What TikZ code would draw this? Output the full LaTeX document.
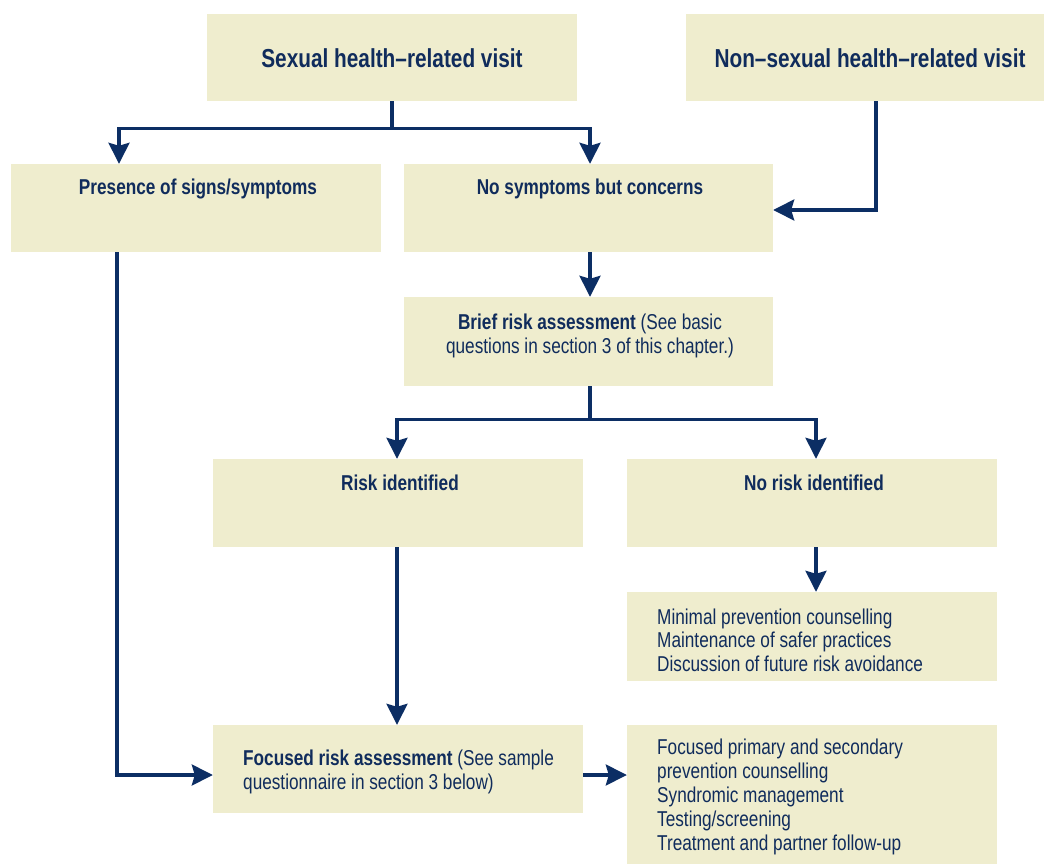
\documentclass[tikz,border=0pt]{standalone}
\usepackage{fontspec}
\setmainfont{Liberation Sans}[FakeStretch=0.8]
\usetikzlibrary{arrows.meta}
\definecolor{boxfill}{RGB}{239,237,206}
\definecolor{navy}{RGB}{16,44,92}
\definecolor{arrowc}{RGB}{12,46,100}
\tikzset{
  box/.style={rectangle, fill=boxfill, draw=none, inner sep=0pt},
  lbl/.style={inner sep=0pt, text=navy, font=\fontsize{21.5}{24}\selectfont},
  ttl/.style={inner sep=0pt, text=navy, font=\bfseries\fontsize{26}{30}\selectfont},
  arr/.style={draw=arrowc, line width=3.2pt, -{Stealth[length=21pt,width=21pt,inset=3pt]}},
}
\begin{document}
\begin{tikzpicture}[x=1pt,y=-1pt]
\useasboundingbox (0,0) rectangle (1044,864);
\clip (0,0) rectangle (1044,864);
% boxes
\node[box, minimum width=370, minimum height=87] (sex) at (392,57.5) {};
\node[box, minimum width=369, minimum height=87] (nonsex) at (870.5,57.5) {};
\node[box, minimum width=370, minimum height=88] (pres) at (196,208) {};
\node[box, minimum width=369, minimum height=88] (nosym) at (588.5,208) {};
\node[box, minimum width=369, minimum height=89] (brief) at (588.5,341.5) {};
\node[box, minimum width=370, minimum height=88] (risk) at (398,503) {};
\node[box, minimum width=370, minimum height=88] (norisk) at (812,503) {};
\node[box, minimum width=370, minimum height=89] (minimal) at (812,636.5) {};
\node[box, minimum width=370, minimum height=88] (focused) at (398,769) {};
\node[box, minimum width=370, minimum height=145] (list) at (812,797.5) {};
% texts
\node[ttl] (sext) at (392,58) {Sexual health–related visit};
\node[ttl] (nonsext) at (870,58) {Non–sexual health–related visit};
\node[lbl, font=\bfseries\fontsize{21.5}{24}\selectfont] (prest) at (198,188.5) {Presence of signs/symptoms};
\node[lbl, font=\bfseries\fontsize{21.5}{24}\selectfont] (nosymt) at (590,188.5) {No symptoms but concerns};
\node[lbl, align=center] (brieft) at (590,336) {{\bfseries Brief risk assessment} (See basic\\questions in section 3 of this chapter.)};
\node[lbl, font=\bfseries\fontsize{21.5}{24}\selectfont] (riskt) at (400,483) {Risk identified};
\node[lbl, font=\bfseries\fontsize{21.5}{24}\selectfont] (noriskt) at (814,483) {No risk identified};
\node[lbl, align=left, anchor=west, font=\fontsize{21.5}{23.5}\selectfont] (minimalt) at (657,640) {Minimal prevention counselling\\Maintenance of safer practices\\Discussion of future risk avoidance};
\node[lbl, align=left, anchor=west] (focusedt) at (243,772) {{\bfseries Focused risk assessment} (See sample\\questionnaire in section 3 below)};
\node[lbl, align=left, anchor=west] (listt) at (657,797) {Focused primary and secondary\\prevention counselling\\Syndromic management\\Testing/screening\\Treatment and partner follow-up};
% connectors
\draw[arr] (sex.south) -- ++(0,27) -| ([xshift=-77pt]pres.north);
\draw[arr] (sex.south) -- ++(0,27) -| ([xshift=1.5pt]nosym.north);
\draw[arr] ([xshift=5.5pt]nonsex.south) |- ([yshift=-2pt]nosym.east);
\draw[arr] ([xshift=1.5pt]nosym.south) -- ([xshift=1.5pt]brief.north);
\draw[arr] ([xshift=1.5pt]brief.south) -- ++(0,33) -| ([xshift=-1pt]risk.north);
\draw[arr] ([xshift=1.5pt]brief.south) -- ++(0,33) -| ([xshift=4pt]norisk.north);
\draw[arr] ([xshift=4pt]norisk.south) -- ([xshift=4pt]minimal.north);
\draw[arr] ([xshift=-1pt]risk.south) -- ([xshift=-1pt]focused.north);
\draw[arr] ([xshift=-79pt]pres.south) |- ([yshift=-6pt]focused.west);
\draw[arr] ([yshift=-6pt]focused.east) -- ([yshift=-6pt]focused.east -| list.west);
\end{tikzpicture}
\end{document}
